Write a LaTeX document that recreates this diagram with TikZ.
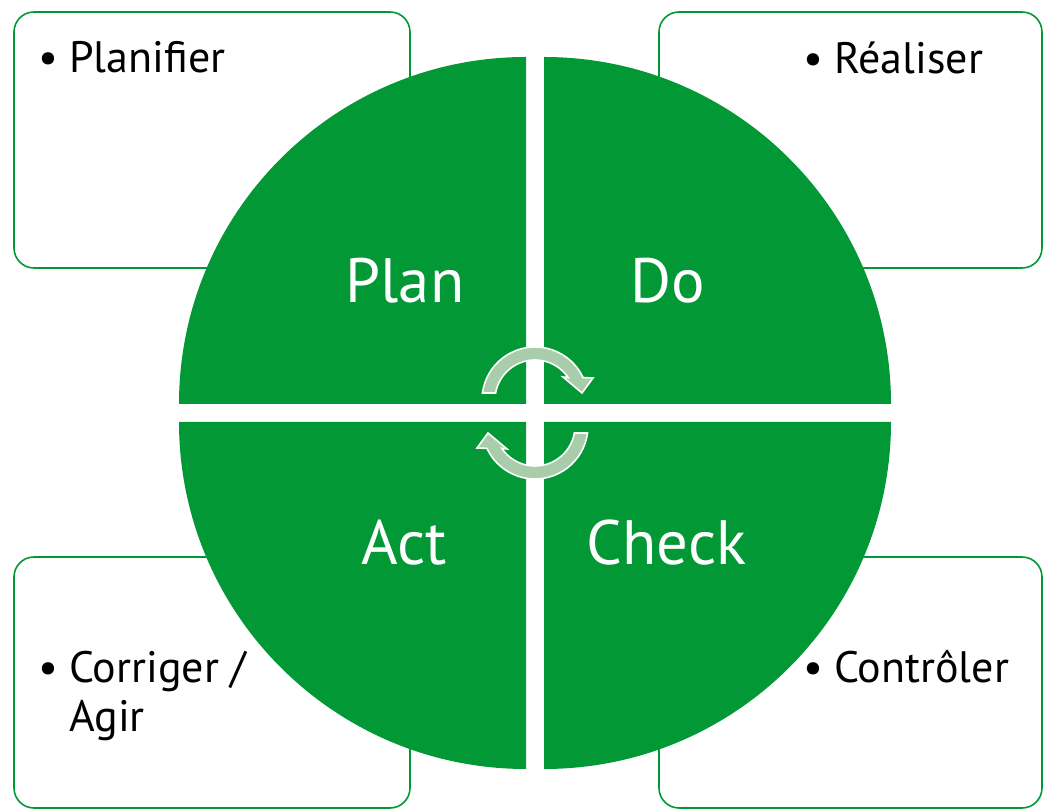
\documentclass[tikz,border=0pt]{standalone}
\usepackage{fontspec}
\setmainfont{PT Sans}
\definecolor{pdcagreen}{RGB}{3,152,54}
\definecolor{cyclegreen}{RGB}{169,204,171}
\newcommand{\bul}{\makebox[23.25pt][l]{•}}
\begin{document}
\begin{tikzpicture}[x=0.75pt,y=0.75pt,
  box/.style={draw=pdcagreen,line width=1.2pt,rounded corners=15pt},
  quad/.style={fill=pdcagreen},
  cyc/.style={fill=cyclegreen,draw=white,line width=1.2pt},
  item/.style={anchor=base west,inner sep=0pt,align=left,font=\fontsize{33}{36.75}\selectfont},
  phase/.style={anchor=base,inner sep=0pt,text=white,font=\fontsize{47}{50}\selectfont}]
\useasboundingbox (0,0) rectangle (1043,810);
% side boxes
\draw[box] (14,542) rectangle (410,798);
\draw[box] (659,542) rectangle (1042,798);
\draw[box] (14,2) rectangle (410,253);
\draw[box] (659,2) rectangle (1042,253);
% the four quarters
\fill[quad] (526,406) -- (179,406) arc[start angle=180,end angle=90,radius=347] -- cycle;
\fill[quad] (544,406) -- (544,753) arc[start angle=90,end angle=0,radius=347] -- cycle;
\fill[quad] (526,388) -- (526,41) arc[start angle=270,end angle=180,radius=347] -- cycle;
\fill[quad] (544,388) -- (891,388) arc[start angle=0,end angle=-90,radius=347] -- cycle;
% cycle arrows
\begin{scope}[shift={(535,410)}]
\filldraw[cyc] (172.4:53) arc[start angle=172.4,end angle=25,radius=53] -- (58,22) -- (47,7) -- (28,23) -- (34:40) arc[start angle=34,end angle=170,radius=40] -- cycle;
\end{scope}
\begin{scope}[shift={(535,384)},rotate=180]
\filldraw[cyc] (172.4:53) arc[start angle=172.4,end angle=25,radius=53] -- (58,22) -- (47,7) -- (28,23) -- (34:40) arc[start angle=34,end angle=170,radius=40] -- cycle;
\end{scope}
% phases
\node (plan) [phase] at (405,507) {Plan};
\node (do) [phase] at (667.5,507) {Do};
\node (act) [phase] at (404.5,245) {Act};
\node (check) [phase] at (666.5,245) {Check};
% box texts
\node (planifier) [item] at (38,737) {\bul Planifier};
\node (realiser) [item] at (803,736) {\bul Réaliser};
\node (corriger) [item] at (38,78) {\bul Corriger /\\\phantom{\bul}Agir};
\node (controler) [item] at (803,127) {\bul Contrôler};
\end{tikzpicture}
\end{document}
